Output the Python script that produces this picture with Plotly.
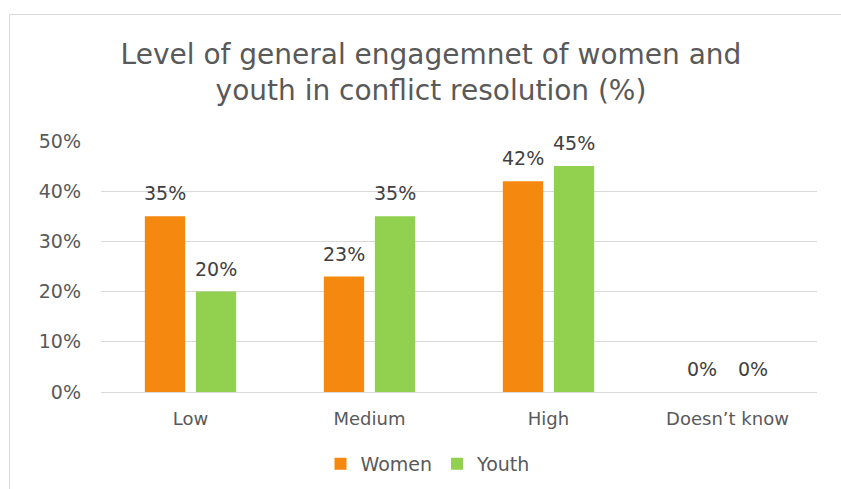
import plotly.graph_objects as go

categories = ["Low", "Medium", "High", "Doesn\u2019t know"]
women = [0.35, 0.23, 0.42, 0.0]
youth = [0.20, 0.35, 0.45, 0.0]
women_labels = ["35%", "23%", "42%", "0%"]
youth_labels = ["20%", "35%", "45%", "0%"]
y_ticks = [0, 0.1, 0.2, 0.3, 0.4, 0.5]
y_tick_text = ["0%", "10%", "20%", "30%", "40%", "50%"]

ORANGE = "#F5890F"
GREEN = "#92D050"
GRAY = "#595959"
DARK = "#404040"
FONT = "DejaVu Sans"

W, H = 841, 489
L, R, T, B = 101, 24, 141, 97
pw, ph = W - L - R, H - T - B

fig = go.Figure()
fig.add_trace(go.Bar(name="Women", x=categories, y=women, marker_color=ORANGE,
                     marker_line_width=0))
fig.add_trace(go.Bar(name="Youth", x=categories, y=youth, marker_color=GREEN,
                     marker_line_width=0))

annotations = []
for cat, v, t in zip(categories, women, women_labels):
    annotations.append(dict(x=cat, y=v, xref="x", yref="y", text=t, showarrow=False,
                            xshift=-25.5, yshift=23, yanchor="middle",
                            font=dict(family=FONT, size=19, color=DARK)))
for cat, v, t in zip(categories, youth, youth_labels):
    annotations.append(dict(x=cat, y=v, xref="x", yref="y", text=t, showarrow=False,
                            xshift=25.5, yshift=23, yanchor="middle",
                            font=dict(family=FONT, size=19, color=DARK)))

fig.update_layout(
    width=W, height=H,
    margin=dict(l=L, r=R, t=T, b=B, pad=0, autoexpand=False),
    paper_bgcolor="white", plot_bgcolor="white",
    barmode="group", bargap=0.43, bargroupgap=0.21,
    font=dict(family=FONT, size=18, color=GRAY),
    title=dict(text="Level of general engagemnet of women and<br>youth in conflict resolution (%)",
               x=(431 - L) / pw, xanchor="center", y=1 - 64 / H, yanchor="middle",
               xref="paper", yref="container",
               font=dict(family=FONT, size=28, color=GRAY)),
    xaxis=dict(showgrid=False, showline=False, zeroline=False, ticks="",
               ticklabelstandoff=14, tickfont=dict(size=18, color=GRAY)),
    yaxis=dict(range=[0, 0.5], tickvals=y_ticks, ticktext=y_tick_text,
               showgrid=True, gridcolor="#D9D9D9", gridwidth=1,
               zeroline=True, zerolinecolor="#D9D9D9", zerolinewidth=1,
               showline=False, ticks="", ticklabelstandoff=19,
               tickfont=dict(size=19, color=GRAY)),
    legend=dict(orientation="h", x=(428 - L) / pw, xanchor="center",
                y=(ph - (464 - T)) / ph, yanchor="middle",
                font=dict(size=19, color=GRAY), itemwidth=30,
                traceorder="normal"),
    annotations=annotations,
    shapes=[dict(type="rect", xref="paper", yref="paper",
                 x0=(9.5 - L) / pw, x1=(W + 20 - L) / pw,
                 y0=-(B + 20) / ph, y1=1 + (T - 14.5) / ph,
                 line=dict(color="#D9D9D9", width=1), fillcolor="rgba(0,0,0,0)",
                 layer="below")],
)

fig.write_html("out.html")
